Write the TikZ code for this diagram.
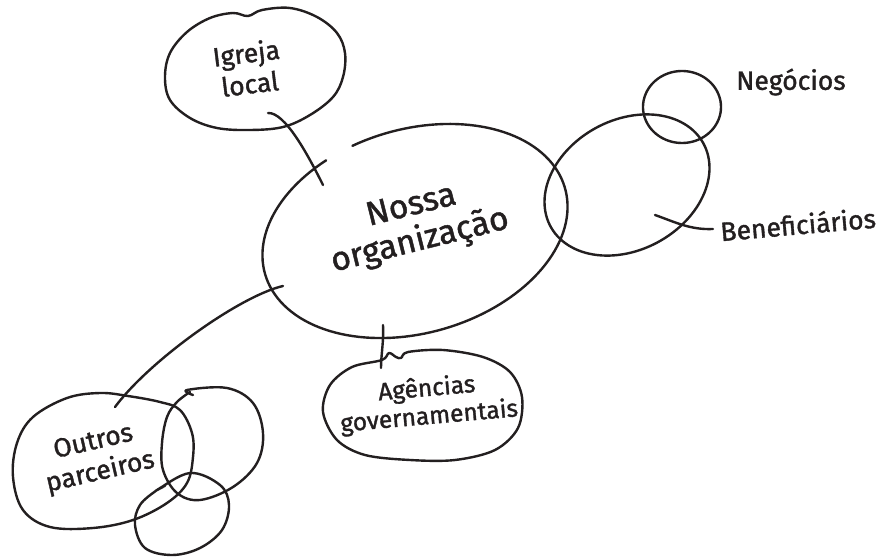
\documentclass[tikz,border=0pt]{standalone}
\usepackage{fontspec}
\setmainfont{Fira Sans}[FakeBold=1.3]
\definecolor{ink}{RGB}{35,31,32}
\begin{document}
\begin{tikzpicture}[x=1pt,y=-1pt,
  pen/.style={line width=2.4pt, line cap=round, line join=round, draw=ink},
  lbl/.style={font=\fontsize{26.5}{31}\selectfont, align=center, inner sep=0pt, text=ink},
  big/.style={font=\fontsize{33.5}{36}\selectfont, align=center, inner sep=0pt, text=ink}]
\useasboundingbox[fill=white] (0,0) rectangle (884,557);

% central organisation: tilted ellipse with an open gap at the upper left
\draw[pen] plot[domain=115:463.6, samples=140, variable=\t]
  ({415 + 156*cos(\t)*cos(16) - 102*sin(\t)*sin(16)},
   {231 - 156*cos(\t)*sin(16) - 102*sin(\t)*cos(16)});
\node[big, rotate=14] (org) at (416,225) {Nossa\\organização};

% local church blob
\draw[pen] plot[smooth cycle, tension=0.6] coordinates {
  (248,16) (262,10) (290,8) (317,17) (337,33) (345,53) (343,77) (333,97)
  (310,115) (283,127) (250,130) (217,128) (190,118) (170,100) (165,77)
  (170,53) (187,32) (210,18) (233,13)};
\node[lbl, rotate=7] (igreja) at (248,68) {Igreja\\local};

% beneficiaries and business circles
\draw[pen] plot[domain=0:360, samples=120, variable=\t]
  ({627 + 87*cos(\t)*cos(28.5) - 65*sin(\t)*sin(28.5)},
   {185 - 87*cos(\t)*sin(28.5) - 65*sin(\t)*cos(28.5)});
\draw[pen] plot[domain=100:468, samples=90, variable=\t]
  ({682 + 39*cos(\t)}, {107 - 36*sin(\t)});
\node[lbl] (negocios) at (791,82) {Negócios};
\node[lbl, rotate=5] (benef) at (798,224) {Beneficiários};

% government agencies blob, with a small bump where the connector lands
\draw[pen] plot[smooth cycle, tension=0.55] coordinates {
  (382,360) (389,353) (396,357) (401,358) (408,352) (443,350) (483,357)
  (510,372) (522,397) (518,428) (495,450) (455,460) (410,460) (365,455)
  (337,440) (323,412) (330,385) (352,367)};
\node[lbl, rotate=5, font=\fontsize{24.5}{28}\selectfont] (agencias) at (428,403) {Agências\\governamentais};

% other partners: three overlapping loops
\draw[pen] plot[smooth cycle, tension=0.6] coordinates {
  (128,396) (160,402) (180,410) (192,433) (193,457) (187,483) (167,503)
  (133,520) (93,528) (50,527) (23,510) (13,477) (17,443) (33,417)
  (67,398) (100,393)};
\draw[pen] plot[smooth, tension=0.6] coordinates {
  (193,395) (187,390) (227,388) (253,403) (263,433) (257,463) (233,487)
  (200,500) (177,493) (163,470) (162,443) (167,417) (177,402) (190,392)};
\draw[pen] plot[smooth, tension=0.6] coordinates {
  (163,487) (157,490) (190,473) (220,485) (229,505) (222,530) (200,548)
  (172,555) (145,548) (135,525) (140,505) (157,490) (165,486)};
\node[lbl, rotate=13] (outros) at (97,458) {Outros\\parceiros};

% connector end points
\coordinate (igA) at (268,113);
\coordinate (igB) at (323,185);
\coordinate (opA) at (283,286);
\coordinate (opB) at (115,407);
\coordinate (agA) at (383,325);
\coordinate (agB) at (381,368);
\coordinate (bnA) at (655,215);
\coordinate (bnB) at (713,229);

% connectors
\draw[pen] (igA) .. controls (285,112) and (308,155) .. (igB);
\draw[pen] (opA) .. controls (240,296) and (150,360) .. (opB);
\draw[pen] (agA) .. controls (384,340) and (381,355) .. (agB);
\draw[pen] (bnA) .. controls (675,222) and (690,230) .. (bnB);
\end{tikzpicture}
\end{document}
